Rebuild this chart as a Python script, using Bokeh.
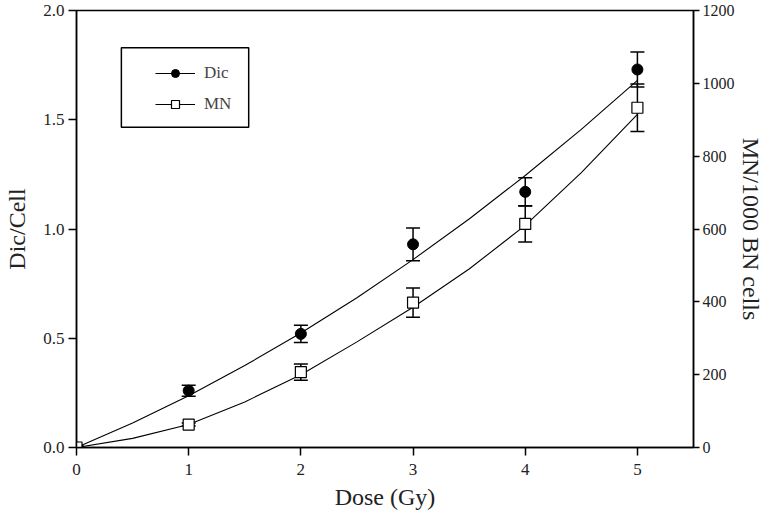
from bokeh.plotting import figure
from bokeh.models import (Range1d, LinearAxis, FixedTicker, Whisker, TeeHead,
                          ColumnDataSource, Legend, LegendItem, BoxAnnotation,
                          NumeralTickFormatter)
from bokeh.embed import file_html
from bokeh.resources import INLINE

# ---- data ----
dose = [0, 1, 2, 3, 4, 5]
dic = [0.0, 0.26, 0.52, 0.93, 1.17, 1.73]
dic_err = [0.01, 0.025, 0.04, 0.075, 0.065, 0.08]
mn = [0, 63, 207, 398, 614, 933]
mn_err = [3, 4, 22, 40, 50, 65]
fit_dose = [0, 0.5, 1, 1.5, 2, 2.5, 3, 3.5, 4, 4.5, 5]
dic_fit = [0.0, 0.112, 0.237, 0.375, 0.524, 0.685, 0.86, 1.046, 1.245, 1.456, 1.68]
mn_fit = [0, 25, 63, 125, 200, 290, 385, 490, 610, 755, 915]
x_ticks = [0, 1, 2, 3, 4, 5]
left_ticks = [0.0, 0.5, 1.0, 1.5, 2.0]
right_ticks = [0, 200, 400, 600, 800, 1000, 1200]

FONT = "Liberation Serif"
TICK_SIZE = "17px"
LABEL_SIZE = "24px"

p = figure(width=766, height=513, output_backend="svg", toolbar_location=None,
           x_range=Range1d(0, 5.5), y_range=Range1d(0, 2.0),
           min_border_left=76, min_border_right=73, min_border_top=10,
           min_border_bottom=66)
p.extra_y_ranges = {"mn": Range1d(0, 1200)}
p.grid.visible = False
p.outline_line_color = "black"
p.outline_line_width = 1.5
p.background_fill_color = "white"
p.border_fill_color = "white"


def style_axis(ax, ticks, fmt):
    ax.ticker = FixedTicker(ticks=ticks)
    ax.formatter = NumeralTickFormatter(format=fmt)
    ax.axis_line_color = "black"
    ax.axis_line_width = 1.5
    ax.major_tick_line_color = "black"
    ax.major_tick_line_width = 1.5
    ax.major_tick_in = 0
    ax.major_tick_out = 8
    ax.minor_tick_line_color = None
    ax.major_label_text_font = FONT
    ax.major_label_text_font_size = TICK_SIZE
    ax.major_label_text_color = "#222222"
    ax.axis_label_text_font = FONT
    ax.axis_label_text_font_size = LABEL_SIZE
    ax.axis_label_text_font_style = "normal"
    ax.axis_label_text_color = "#222222"


style_axis(p.xaxis[0], x_ticks, "0")
p.xaxis[0].axis_label = "Dose (Gy)"
p.xaxis[0].major_label_standoff = 8
p.xaxis[0].axis_label_standoff = 6

style_axis(p.yaxis[0], left_ticks, "0.0")
p.yaxis[0].axis_label = "Dic/Cell"
p.yaxis[0].major_label_standoff = 4
p.yaxis[0].axis_label_standoff = 10

right = LinearAxis(y_range_name="mn")
style_axis(right, right_ticks, "0")
right.major_tick_out = 6
right.major_label_text_font_size = "16px"
right.axis_label = "MN/1000 BN cells"
right.major_label_standoff = 3
right.axis_label_standoff = 0
p.add_layout(right, "right")

dsrc = ColumnDataSource(dict(x=dose, y=dic,
                             lo=[v - e for v, e in zip(dic, dic_err)],
                             hi=[v + e for v, e in zip(dic, dic_err)]))
msrc = ColumnDataSource(dict(x=dose, y=mn,
                             lo=[v - e for v, e in zip(mn, mn_err)],
                             hi=[v + e for v, e in zip(mn, mn_err)]))

dic_line = p.line(fit_dose, dic_fit, line_color="black", line_width=1.1)
mn_line = p.line(fit_dose, mn_fit, line_color="black", line_width=1.1,
                 y_range_name="mn")

for src, rng in ((dsrc, "default"), (msrc, "mn")):
    w = Whisker(base="x", lower="lo", upper="hi", source=src,
                line_color="black", line_width=1.5,
                upper_head=TeeHead(size=14, line_color="black", line_width=1.5),
                lower_head=TeeHead(size=14, line_color="black", line_width=1.5))
    if rng != "default":
        w.y_range_name = rng
    p.add_layout(w)

dic_pts = p.scatter("x", "y", source=dsrc, marker="circle", size=11,
                    fill_color="black", line_color="black")
mn_pts = p.scatter("x", "y", source=msrc, marker="square", size=11,
                   fill_color="white", line_color="black", line_width=1.2,
                   y_range_name="mn")

# legend frame
p.add_layout(BoxAnnotation(left=0.40, right=1.535, bottom=1.466, top=1.83,
                           fill_alpha=0, line_color="black", line_alpha=1.0,
                           line_width=1.5))

legend = Legend(items=[LegendItem(label="Dic", renderers=[dic_line, dic_pts]),
                       LegendItem(label="MN", renderers=[mn_line, mn_pts])],
                location=(79, 333), padding=0, margin=0, spacing=11,
                glyph_width=40, glyph_height=20, label_height=20,
                label_standoff=9,
                label_text_font=FONT, label_text_font_size="17px",
                border_line_alpha=0, background_fill_alpha=0)
p.add_layout(legend)

open("out.html", "w").write(file_html(p, INLINE))
